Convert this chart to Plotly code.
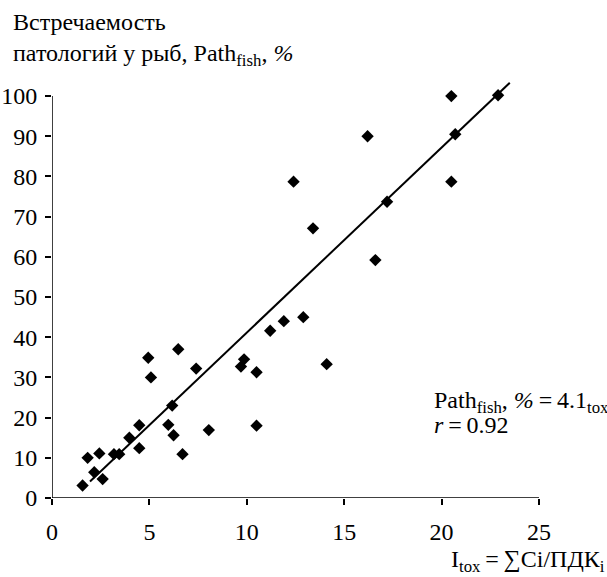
import plotly.graph_objects as go

# Data
itox = [1.57, 1.83, 2.17, 2.43, 2.6, 3.18, 3.45, 3.97, 4.48, 4.48, 4.94, 5.08,
        5.97, 6.17, 6.24, 6.48, 6.7, 7.4, 8.05, 9.7, 9.86, 10.5, 10.5, 11.2,
        11.9, 12.9, 14.1, 12.4, 13.4, 16.2, 16.6, 17.2, 20.5, 20.5, 20.7, 22.9]
path_fish = [3.1, 10.0, 6.4, 11.1, 4.7, 10.9, 10.9, 15.0, 18.1, 12.4, 34.9, 30.0,
             18.2, 23.0, 15.6, 37.0, 10.9, 32.2, 16.9, 32.7, 34.5, 31.3, 18.0, 41.6,
             44.0, 45.0, 33.3, 78.7, 67.1, 90.0, 59.2, 73.7, 100.0, 78.7, 90.5, 100.2]
fit_x = [1.95, 23.5]
fit_y = [4.1, 103.3]
x_ticks = [0, 5, 10, 15, 20, 25]
y_ticks = [0, 10, 20, 30, 40, 50, 60, 70, 80, 90, 100]

FONT = '"Liberation Serif", "Times New Roman", Times, serif'
FS = 24
W, H = 607, 577
ML, MR, MT, MB = 52, 67.5, 80, 79
pw = W - ML - MR
ph = H - MT - MB


def px(xp):
    return (xp - ML) / pw


def py(yp):
    return (H - MB - yp) / ph


fig = go.Figure()
fig.add_trace(go.Scatter(x=fit_x, y=fit_y, mode="lines",
                         line=dict(color="black", width=2),
                         hoverinfo="skip", showlegend=False))
fig.add_trace(go.Scatter(x=itox, y=path_fish, mode="markers",
                         marker=dict(symbol="diamond", size=9.5, color="black"),
                         cliponaxis=False, showlegend=False))

# axis lines
fig.add_shape(type="line", x0=x_ticks[0], x1=x_ticks[-1], y0=0, y1=0,
              line=dict(color="black", width=1.5), layer="above")
fig.add_shape(type="line", x0=0, x1=0, y0=y_ticks[0], y1=y_ticks[-1],
              line=dict(color="black", width=1.5), layer="above")

tf = dict(family=FONT, size=FS, color="black")
ann = []
ann.append(dict(text="Встречаемость", x=px(11), y=py(22), xref="paper", yref="paper",
                xanchor="left", yanchor="middle", showarrow=False, font=tf))
ann.append(dict(text="патологий у рыб, Path<sub>fish</sub>, <i>%</i>", x=px(11), y=py(55),
                xref="paper", yref="paper", xanchor="left", yanchor="middle",
                showarrow=False, font=tf))
ann.append(dict(text="Path<sub>fish</sub>, <i>%</i>\u2009=\u20094.1<sub>tox</sub>",
                x=px(432), y=py(402), xref="paper", yref="paper",
                xanchor="left", yanchor="middle", showarrow=False, font=tf))
ann.append(dict(text="<i>r</i>\u2009=\u20090.92", x=px(432), y=py(425),
                xref="paper", yref="paper", xanchor="left", yanchor="middle",
                showarrow=False, font=tf))
ann.append(dict(text="I<sub>tox</sub>\u2009=\u2009∑Ci/ПДК<sub>i</sub>", x=px(449), y=py(561),
                xref="paper", yref="paper", xanchor="left", yanchor="middle",
                showarrow=False, font=tf))

fig.update_layout(
    width=W, height=H,
    margin=dict(l=ML, r=MR, t=MT, b=MB, pad=0, autoexpand=False),
    paper_bgcolor="white", plot_bgcolor="white",
    font=tf,
    annotations=ann,
    xaxis=dict(range=[0, 25], tickvals=x_ticks, ticktext=[str(v) for v in x_ticks],
               showgrid=False, zeroline=False, showline=False, automargin=False,
               ticks="outside", ticklen=6, tickwidth=1.5, tickcolor="black",
               ticklabelstandoff=6, tickfont=tf),
    yaxis=dict(range=[0, 104], tickvals=y_ticks, ticktext=[str(v) for v in y_ticks],
               showgrid=False, zeroline=False, showline=False, automargin=False,
               ticks="outside", ticklen=6, tickwidth=1.5, tickcolor="black",
               ticklabelstandoff=3, tickfont=tf),
)

fig.write_html("out.html", config={"displayModeBar": False},
               post_script="document.body.style.margin='0';document.body.style.overflow='hidden';")
